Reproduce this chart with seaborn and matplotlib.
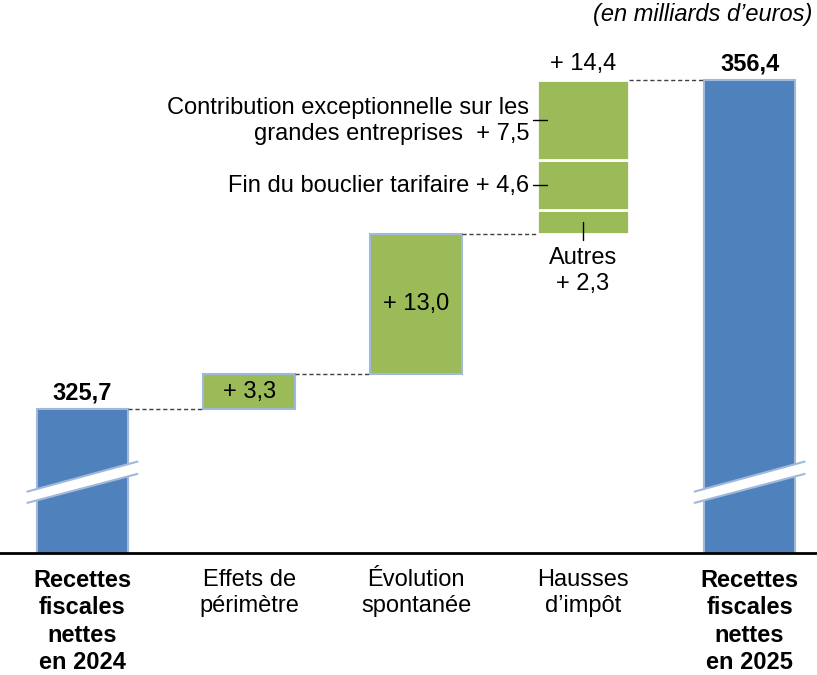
import matplotlib
matplotlib.use("Agg")
import matplotlib.pyplot as plt
import seaborn as sns
import numpy as np
import pandas as pd
from matplotlib.patches import Polygon

# ---- data ----
categories = ["Recettes\nfiscales\nnettes\nen 2024", "Effets de\npérimètre",
              "Évolution\nspontanée", "Hausses\nd\u2019impôt",
              "Recettes\nfiscales\nnettes\nen 2025"]
start_value = 325.7
end_value = 356.4
changes = [3.3, 13.0, 14.4]
hausses_parts = [2.3, 4.6, 7.5]          # Autres, bouclier, contribution
hausses_labels = ["Autres\n+ 2,3", "Fin du bouclier tarifaire + 4,6",
                  "Contribution exceptionnelle sur les\ngrandes entreprises  + 7,5"]
value_labels = ["325,7", "+ 3,3", "+ 13,0", "+ 14,4", "356,4"]

BLUE = "#4F81BD"
BLUE_EDGE = "#A0B9DA"
GREEN = "#9BBB59"
FS = 17
LS = 1.25

sns.set_theme(style="white")
plt.rcParams["font.family"] = ["Liberation Sans", "DejaVu Sans"]
plt.rcParams["text.color"] = "black"
plt.rcParams["xtick.color"] = "black"
plt.rcParams["xtick.labelcolor"] = "black"

fig = plt.figure(figsize=(8.17, 6.75), dpi=100)
ax = fig.add_axes([0, 0.1807, 1, 0.8193])

# cumulative levels
levels = [start_value]
for c in changes:
    levels.append(levels[-1] + c)
bottoms_main = [0, levels[0], levels[1], levels[2], 0]
heights_main = [start_value, changes[0], changes[1], hausses_parts[0], end_value]

W = 0.55
df = pd.DataFrame({"cat": categories, "h": heights_main})
sns.barplot(data=df, x="cat", y="h", order=categories, width=W,
            bottom=bottoms_main, color=BLUE, saturation=1, ax=ax,
            linewidth=1.5, edgecolor=BLUE_EDGE)
face = [BLUE, GREEN, GREEN, GREEN, BLUE]
for i, p in enumerate(ax.patches):
    p.set_facecolor(face[i])
    if i == 3:
        p.set_edgecolor("white")
        p.set_linewidth(2)

# stacked segments of "Hausses d'impôt"
b = levels[2] + hausses_parts[0]
for part in hausses_parts[1:]:
    sns.barplot(x=[categories[3]], y=[part], order=categories, width=W,
                bottom=b, color=GREEN, saturation=1, ax=ax,
                linewidth=2, edgecolor="white")
    b += part

ymin, ymax = 312.27, 363.86
ax.set_xlim(-0.494, 4.404)
ax.set_ylim(ymin, ymax)

# connectors
tops = [levels[0], levels[1], levels[2], levels[3]]
for i, t in enumerate(tops):
    ax.plot([i + W / 2, i + 1 - W / 2], [t, t], color="#404040", lw=1,
            ls=(0, (3, 2)), zorder=1)

# axis break marks on total bars
for xc in [0, 4]:
    x0, x1 = xc - 0.33, xc + 0.33
    lo0, lo1, hi0, hi1 = 316.95, 319.65, 318.0, 320.8
    ax.add_patch(Polygon([[x0, lo0], [x1, lo1], [x1, hi1], [x0, hi0]],
                         closed=True, facecolor="white", edgecolor="none", zorder=5))
    ax.plot([x0, x1], [lo0, lo1], color=BLUE_EDGE, lw=1.5, zorder=6)
    ax.plot([x0, x1], [hi0, hi1], color=BLUE_EDGE, lw=1.5, zorder=6)

# value labels
ax.annotate(value_labels[0], (0, levels[0]), xytext=(0, 7), textcoords="offset points",
            ha="center", va="baseline", fontsize=FS, fontweight="bold")
ax.annotate(value_labels[4], (4, end_value), xytext=(0, 7), textcoords="offset points",
            ha="center", va="baseline", fontsize=FS, fontweight="bold")
ax.annotate(value_labels[3], (3, levels[3]), xytext=(0, 7), textcoords="offset points",
            ha="center", va="baseline", fontsize=FS)
ax.text(1, levels[0] + changes[0] / 2 - 0.1, value_labels[1], ha="center", va="center", fontsize=FS)
ax.text(2, levels[1] + changes[1] / 2, value_labels[2], ha="center", va="center", fontsize=FS)

# annotations for hausses parts
seg_lo = levels[2]
centers = []
for part in hausses_parts:
    centers.append(seg_lo + part / 2)
    seg_lo += part
left_edge = 3 - W / 2
for k in (1, 2):
    ax.plot([left_edge - 0.025, left_edge + 0.06], [centers[k], centers[k]],
            color="black", lw=1, zorder=7)
    ax.text(left_edge - 0.047, centers[k] - 0.1, hausses_labels[k], ha="right", va="center",
            fontsize=FS, multialignment="right", linespacing=LS, zorder=7)
ax.plot([3, 3], [centers[0], levels[2] - 0.56], color="black", lw=1, zorder=7)
ax.text(3, 338.55, hausses_labels[0], ha="center", va="center", fontsize=FS,
        multialignment="center", linespacing=LS)

fig.text(0.994, 0.979, "(en milliards d\u2019euros)", ha="right", va="center",
         fontsize=FS, style="italic")

# axes styling
for s in ["top", "left", "right"]:
    ax.spines[s].set_visible(False)
ax.spines["bottom"].set_color("black")
ax.spines["bottom"].set_linewidth(2)
ax.set_yticks([])
ax.set_xlabel("")
ax.set_ylabel("")
ax.set_xticks(range(len(categories)))
ax.set_xticklabels(categories, fontsize=FS, va="top", linespacing=LS)
ax.tick_params(axis="x", length=0, pad=11.5)
for i, lab in enumerate(ax.get_xticklabels()):
    if i in (0, 4):
        lab.set_fontweight("bold")

fig.savefig("out.png", dpi=100)
